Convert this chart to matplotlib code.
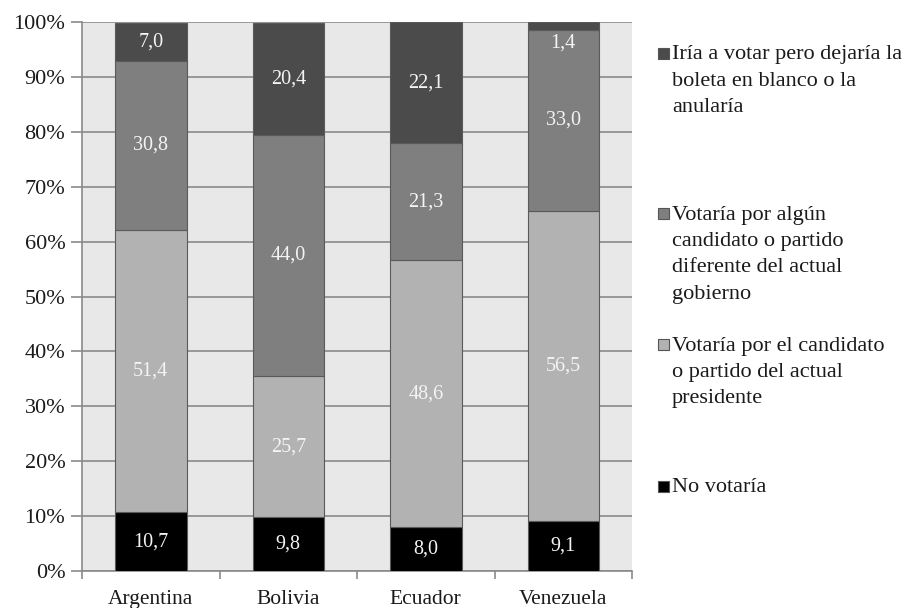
import matplotlib.pyplot as plt
from matplotlib.patches import Rectangle
import numpy as np

W, H = 913, 608

countries = ["Argentina", "Bolivia", "Ecuador", "Venezuela"]
no_votaria = [10.7, 9.8, 8.0, 9.1]
actual = [51.4, 25.7, 48.6, 56.5]
otro = [30.8, 44.0, 21.3, 33.0]
blanco = [7.0, 20.4, 22.1, 1.4]

series = [no_votaria, actual, otro, blanco]
colors = ["#000000", "#b2b2b2", "#7f7f7f", "#4b4b4b"]
legend_lines = [
    ["No votaría"],
    ["Votaría por el candidato", "o partido del actual", "presidente"],
    ["Votaría por algún", "candidato o partido", "diferente del actual", "gobierno"],
    ["Iría a votar pero dejaría la", "boleta en blanco o la", "anularía"],
]
yticks = np.arange(0, 101, 10)

plt.rcParams['font.family'] = ['Liberation Serif', 'DejaVu Serif']

fig = plt.figure(figsize=(W / 100, H / 100), dpi=100)
ax = fig.add_axes([82 / W, 1 - 571 / H, (632 - 82) / W, (571 - 22) / H])
ax.set_facecolor("#e8e8e8")

x = np.arange(len(countries))
bottom = np.zeros(len(countries))
for vals, col in zip(series, colors):
    vals = np.array(vals)
    ax.bar(x, vals, 0.52, bottom=bottom, color=col, edgecolor="#5a5a5a",
           linewidth=0.8, zorder=3)
    for xi, b, v in zip(x, bottom, vals):
        ypos = b + v / 2
        if v < 3:
            # tiny segment: label sits just under it
            ypos = b - 2.4
        ax.text(xi, ypos, f"{v:.1f}".replace(".", ","), ha="center",
                va="center", color="#f4f4f4", fontsize=14.5, zorder=4)
    bottom += vals

ax.set_xlim(-0.5, len(countries) - 0.5)
ax.set_ylim(0, 100)
ax.set_yticks(yticks)
ax.set_yticklabels([f"{t}%" for t in yticks], fontsize=16, color="#1a1a1a")
ax.yaxis.grid(True, color="#8a8a8a", linewidth=1.2, zorder=0)
ax.set_axisbelow(True)
ax.set_xticks(x)
ax.set_xticklabels(countries, fontsize=15.5, color="#1a1a1a")
ax.set_xticks(np.arange(-0.5, len(countries)), minor=True)
ax.tick_params(axis="x", which="major", length=0, pad=14)
ax.tick_params(axis="x", which="minor", length=6, color="#8a8a8a", width=1.2)
ax.tick_params(axis="y", length=8, color="#8a8a8a", width=1.2, pad=4)
for s in ["top", "right"]:
    ax.spines[s].set_visible(False)
for s in ["left", "bottom"]:
    ax.spines[s].set_color("#8a8a8a")
    ax.spines[s].set_linewidth(1.2)

# legend drawn by hand, top entry first
line_h = 26.5
starts = [55, 215, 346, 488]
for i, (lines, start) in enumerate(zip(legend_lines[::-1], starts)):
    col = colors[::-1][i]
    fig.patches.append(Rectangle((658 / W, 1 - (start + 4) / H), 11 / W, 11 / H,
                                 transform=fig.transFigure, facecolor=col,
                                 edgecolor="#555555", linewidth=0.8))
    for j, ln in enumerate(lines):
        fig.text(672 / W, 1 - (start + j * line_h) / H, ln, fontsize=16,
                 va="center", ha="left", color="#1a1a1a")

fig.savefig("out.png", dpi=100)
